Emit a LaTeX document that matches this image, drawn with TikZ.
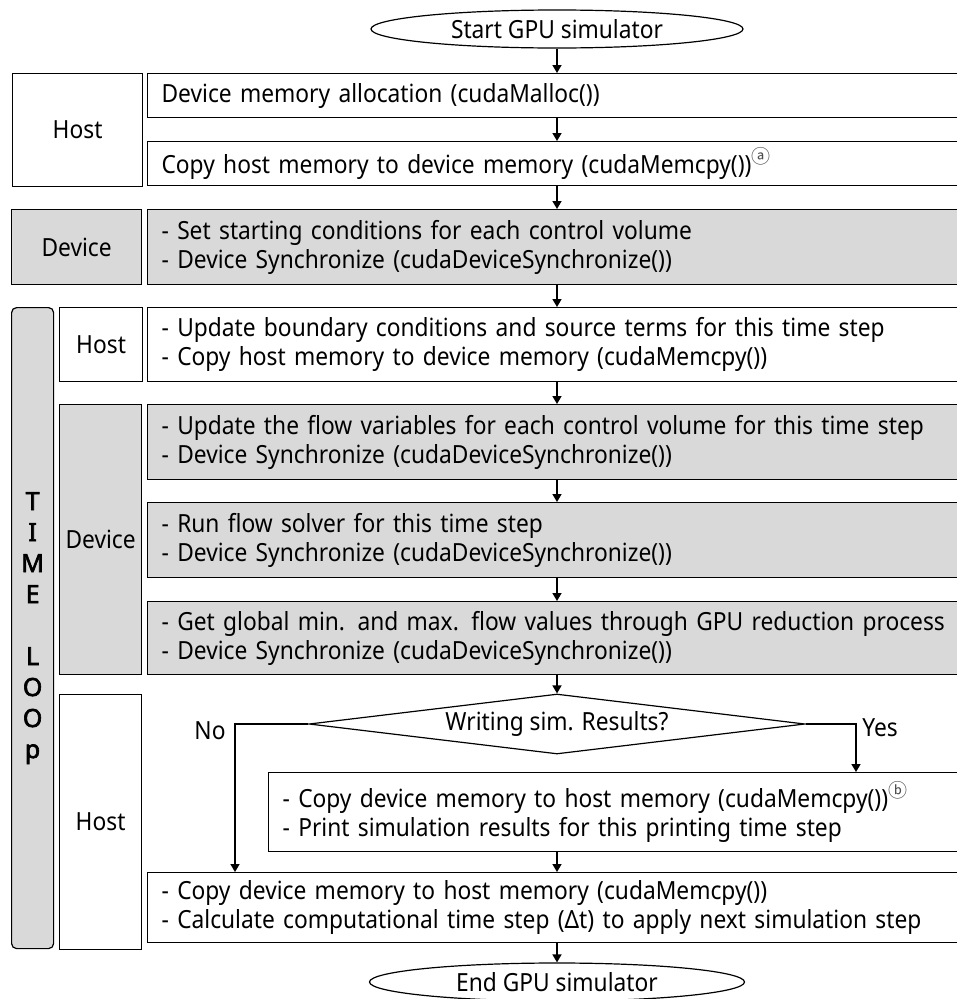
\documentclass[tikz,border=0pt]{standalone}
\usepackage{fontspec}
\setmainfont{Noto Sans}[FakeStretch=0.91]
\newfontfamily\loopfont{Noto Sans}[FakeBold=2.5]
\newfontfamily\cjk{Noto Sans CJK KR}
\usetikzlibrary{shapes.geometric,arrows.meta}
\definecolor{boxgray}{RGB}{217,217,217}
\hyphenpenalty=10000
\newcommand{\circl}[1]{\raisebox{10pt}{\fontsize{19}{19}\selectfont\color{black!70}\cjk #1}}
\tikzset{
  lblbox/.style={draw,line width=1.2pt,anchor=north west,inner sep=0pt,align=center},
  stepbox/.style={draw,line width=1.2pt,anchor=north west,inner xsep=14pt,inner ysep=0pt,align=left},
  arr/.style={line width=1.6pt,-{Triangle[length=8pt,width=9pt]}},
}
\begin{document}
\begin{tikzpicture}[x=1pt,y=-1pt,font=\fontsize{25}{29}\selectfont]
    \useasboundingbox (0,0) rectangle (957,999);
    \node[draw,ellipse,line width=1.2pt,minimum width=372pt,minimum height=38pt,inner sep=0pt](start) at (557,29){Start GPU simulator};
    % side labels
    \foreach \n/\x/\y/\w/\h/\c/\t in {
        hostA/12/73/130/113/white/Host,
        devA/11/209/130/75/boxgray/Device,
        hostB/59/307/83/74/white/Host,
        devB/59/404/82/270/boxgray/Device,
        hostC/59/694/82/255/white/Host}{
        \node[lblbox,fill=\c,minimum width=\w pt,minimum height=\h pt](\n) at (\x,\y){\t};
    }
    \node[lblbox,fill=boxgray,rounded corners=5pt,minimum width=42pt,minimum height=641pt,font=\fontsize{25}{31}\loopfont](loop) at (11,307){T\\I\\M\\E\\[31pt]L\\O\\O\\p};
    % process boxes (right side runs past the page edge)
    \foreach \n/\y/\h/\c/\t in {
        b1/73/44/white/{Device memory allocation (cudaMalloc())},
        b2/141/44/white/{Copy host memory to device memory (cudaMemcpy())\circl{ⓐ}},
        b3/209/75/boxgray/{- Set starting conditions for each control volume\\- Device Synchronize (cudaDeviceSynchronize())},
        b4/307/74/white/{- Update boundary conditions and source terms for this time step\\- Copy host memory to device memory (cudaMemcpy())},
        b5/404/75/boxgray/{- Update the flow variables for each control volume for this time step\\- Device Synchronize (cudaDeviceSynchronize())},
        b6/502/75/boxgray/{- Run flow solver for this time step\\- Device Synchronize (cudaDeviceSynchronize())},
        b7/601/73/boxgray/{- Get global min. and max. flow values through GPU reduction process\\- Device Synchronize (cudaDeviceSynchronize())},
        b9/872/70/white/{- Copy device memory to host memory (cudaMemcpy())\\- Calculate computational time step (Δt) to apply next simulation step}}{
        \node[stepbox,fill=\c,minimum height=\h pt,text width=790pt](\n) at (147,\y){\t};
    }
    \node[stepbox,minimum height=79pt,text width=669pt](b8) at (268,772){- Copy device memory to host memory (cudaMemcpy())\circl{ⓑ}\\- Print simulation results for this printing time step};
    \node[draw,diamond,line width=1.2pt,aspect=8.27,inner sep=0pt,minimum width=496pt,minimum height=60pt](dec) at (557,724){Writing sim. Results?};
    \node[draw,ellipse,line width=1.2pt,minimum width=375pt,minimum height=38pt,inner sep=0pt](stop) at (557,982){End GPU simulator};
    \node(yes) at (880,728){Yes};
    \node(no) at (210,731){No};
    \coordinate(yesend) at (856,772);
    \coordinate(noend) at (235,872);
    % arrows
    \draw[arr](start)--(start|-b1.north);
    \foreach \a/\b in {b1/b2,b2/b3,b3/b4,b4/b5,b5/b6,b6/b7,b8/b9}{
        \draw[arr](\a.south-|start)--(\b.north-|start);
    }
    \draw[arr](b7.south-|start)--(dec.north);
    \draw[arr](dec.east)-|(yesend);
    \draw[arr](dec.west)-|(noend);
    \draw[arr](b9.south-|start)--(stop.north);
\end{tikzpicture}
\end{document}
